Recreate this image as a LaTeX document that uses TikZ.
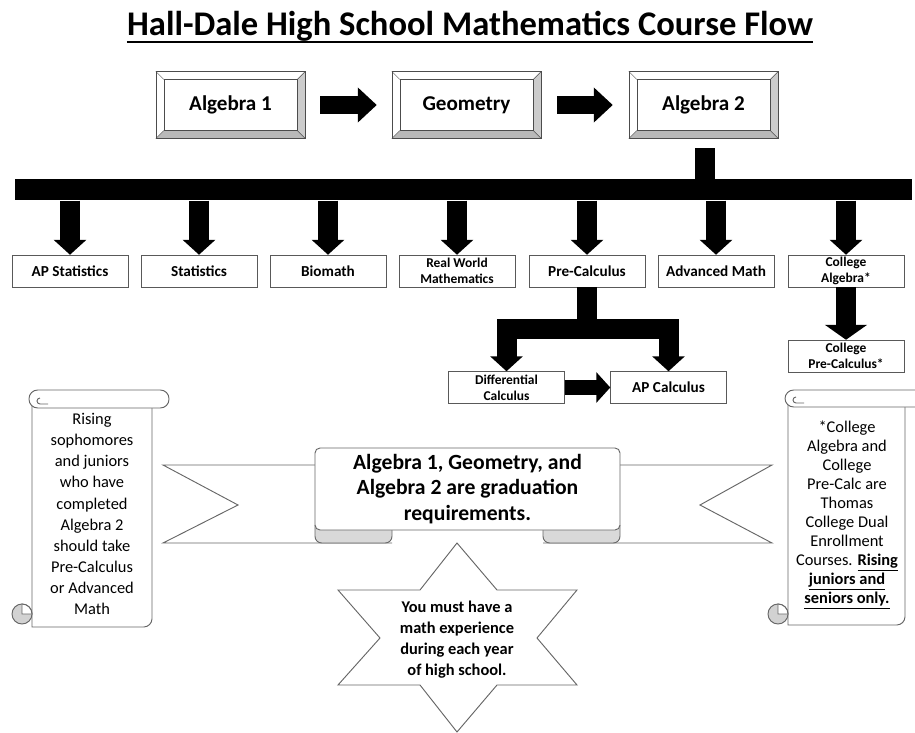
\documentclass[tikz,border=0pt]{standalone}
\usepackage{fontspec}
\setmainfont{Carlito}
\usetikzlibrary{arrows.meta}

\newcommand{\bevel}[1]{%
  \fill[gray!55] (#1.south west) -- (#1.south east) -- ([shift={(-0.24cm,0.24cm)}]#1.south east) -- ([shift={(0.24cm,0.24cm)}]#1.south west) -- cycle;
  \fill[gray!40] (#1.south east) -- (#1.north east) -- ([shift={(-0.24cm,-0.24cm)}]#1.north east) -- ([shift={(-0.24cm,0.24cm)}]#1.south east) -- cycle;
  \draw[black!70] (#1.south west) rectangle (#1.north east);
  \draw[black!70] ([shift={(0.24cm,0.24cm)}]#1.south west) rectangle ([shift={(-0.24cm,-0.24cm)}]#1.north east);
  \draw[black!70] (#1.south west) -- ++(0.24cm,0.24cm) (#1.south east) -- ++(-0.24cm,0.24cm)
    (#1.north east) -- ++(-0.24cm,-0.24cm) (#1.north west) -- ++(0.24cm,-0.24cm);
}

\tikzset{
  button/.style={draw=black!70, fill=white, minimum width=4.47cm, minimum height=2.0cm,
    font=\fontsize{18}{21}\selectfont\bfseries},
  course/.style={draw=black!65, fill=white, minimum width=3.48cm, minimum height=0.96cm,
    inner sep=0pt, align=center, font=\fontsize{13}{15}\selectfont\bfseries},
  twoline/.style={course, font=\fontsize{11.5}{13.5}\selectfont\bfseries},
  fatarrow/.style={line width=0.54cm, -{Triangle[width=1.02cm, length=0.57cm]}},
  downarrow/.style={line width=0.6cm, -{Triangle[width=0.96cm, length=0.45cm]}},
  sidearrow/.style={line width=0.45cm, -{Triangle[width=0.9cm, length=0.42cm]}},
  stem/.style={line width=0.6cm},
  bar/.style={fill=black, minimum width=26.91cm, minimum height=0.63cm, inner sep=0pt},
  outline/.style={draw=black!60, line width=0.8pt},
  note/.style={align=center, font=\fontsize{14}{16.2}\selectfont},
}

\begin{document}
\begin{tikzpicture}[x=0.03cm, y=-0.03cm]
    \useasboundingbox (0,0) rectangle (915,733);

    % Title
    \node[anchor=base, inner sep=0pt, font=\fontsize{29.5}{33}\selectfont\bfseries] (title) at (470,36)
        {Hall-Dale High School Mathematics Course Flow};
    \draw[line width=0.06cm] (title.south west) -- (title.south east);

    % Required courses
    \node[button] (alg1) at (230.5,105) {};
    \node[button] (geom) at (466.5,105) {};
    \node[button] (alg2) at (703.5,105) {};
    \bevel{alg1}
    \bevel{geom}
    \bevel{alg2}
    \node[font=\fontsize{18}{21}\selectfont\bfseries] (alg1text) at (alg1) {Algebra 1};
    \node[font=\fontsize{18}{21}\selectfont\bfseries] (geomtext) at (geom) {Geometry};
    \node[font=\fontsize{18}{21}\selectfont\bfseries] (alg2text) at (alg2) {Algebra 2};

    \draw[fatarrow, shorten <=0.45cm, shorten >=0.45cm] (alg1) -- (geom);
    \draw[fatarrow, shorten <=0.48cm, shorten >=0.48cm] (geom) -- (alg2);

    % Bar to the electives
    \node[bar] (bar) at (463.5,190) {};
    \draw[stem, shorten <=0.29cm] ([xshift=0.05cm]alg2.south) -- ([xshift=0.05cm]alg2.south |- bar.center);

    % Courses after Algebra 2
    \node[course] (apstat) at (70,271) {AP Statistics};
    \node[course] (stat) at (199,271) {Statistics};
    \node[course] (biomath) at (328,271) {Biomath};
    \node[twoline] (realworld) at (457,271) {Real World\\Mathematics};
    \node[course] (precalc) at (587,271) {Pre-Calculus};
    \node[course] (advmath) at (716,271) {Advanced Math};
    \node[twoline] (colalg) at (846,271) {College\\Algebra*};

    \draw[downarrow] (bar.south -| apstat) -- (apstat.north);
    \draw[downarrow] (bar.south -| stat) -- (stat.north);
    \draw[downarrow] (bar.south -| biomath) -- (biomath.north);
    \draw[downarrow] (bar.south -| realworld) -- (realworld.north);
    \draw[downarrow] (bar.south -| precalc) -- (precalc.north);
    \draw[downarrow] (bar.south -| advmath) -- (advmath.north);
    \draw[downarrow] (bar.south -| colalg) -- (colalg.north);

    % Calculus
    \node[twoline] (diffcalc) at (506.5,387.5) {Differential\\Calculus};
    \node[course] (apcalc) at (668.5,387.5) {AP Calculus};
    \coordinate (fork) at (587,329);
    \draw[stem] (precalc.south) -- (fork);
    \draw[downarrow, line join=miter] (fork) -| (diffcalc.north);
    \draw[downarrow, line join=miter] (fork) -| (apcalc.north);
    \draw[sidearrow] (diffcalc) -- (apcalc);

    \node[twoline] (colprecalc) at (846,356) {College\\Pre-Calculus*};
    \draw[downarrow, -{Triangle[width=1.25cm, length=0.45cm]}] (colalg) -- (colprecalc);

    % Left scroll
    \draw[outline, fill=white] (32,400) -- (32,627) [rounded corners=0.25cm] -- (152,627) -- (152,400);
    \draw[outline, fill=white, rounded corners=0.26cm] (29,390) rectangle (169,408);
    \draw[outline] (48,404) -- (40,404) arc[start angle=270, end angle=90, radius=0.09cm];
    \filldraw[outline, fill=gray!35] (22,614) circle[radius=0.3cm];
    \filldraw[outline, fill=white] (22,614) -- (32,614) arc[start angle=0, end angle=90, radius=0.3cm] -- cycle;
    \node[note, font=\fontsize{14}{18}\selectfont] (leftnote) at (92,514) {Rising\\sophomores\\and juniors\\who have\\completed\\Algebra 2\\should take\\Pre-Calculus\\or Advanced\\Math};

    % Right scroll
    \draw[outline, fill=white] (788,400) -- (788,625) [rounded corners=0.25cm] -- (905,625) -- (905,400);
    \draw[outline, fill=white, rounded corners=0.26cm] (785,390) rectangle (925,407);
    \draw[outline] (804,403) -- (796,403) arc[start angle=270, end angle=90, radius=0.09cm];
    \filldraw[outline, fill=gray!35] (778,614) circle[radius=0.3cm];
    \filldraw[outline, fill=white] (778,614) -- (788,614) arc[start angle=0, end angle=90, radius=0.3cm] -- cycle;
    \node[note] (rightnote) at (847,515) {*College\\Algebra and\\College\\Pre-Calc are\\Thomas\\College Dual\\Enrollment\\Courses. \textbf{\underline{Rising}}\\\textbf{\underline{juniors and}}\\\textbf{\underline{seniors only.}}};

    % Banner
    \draw[outline] (315,465) -- (163,465) -- (238,505) -- (163,543) -- (392,543);
    \draw[outline] (620,465) -- (772,465) -- (700,505) -- (772,543) -- (543,543);
    \filldraw[outline, fill=gray!30, rounded corners=0.2cm] (392,527) -- (392,543) -- (315,543) -- (315,525);
    \filldraw[outline, fill=gray!30, rounded corners=0.2cm] (543,527) -- (543,543) -- (620,543) -- (620,525);
    \node[outline, fill=white, rounded corners=0.15cm, minimum width=9.15cm, minimum height=2.46cm,
        align=center, font=\fontsize{18.5}{22}\selectfont\bfseries] (banner) at (467.5,489)
        {Algebra 1, Geometry, and\\Algebra 2 are graduation\\requirements.};

    % Star
    \draw[outline] (457,543) -- (497,590) -- (577,590) -- (537,638) -- (577,685) -- (497,685) -- (457,732)
        -- (420,685) -- (338,685) -- (380,638) -- (338,590) -- (420,590) -- cycle;
    \node[align=center, font=\fontsize{14}{17.9}\selectfont\bfseries] (yearly) at (457,640)
        {You must have a\\math experience\\during each year\\of high school.};

\end{tikzpicture}
\end{document}
